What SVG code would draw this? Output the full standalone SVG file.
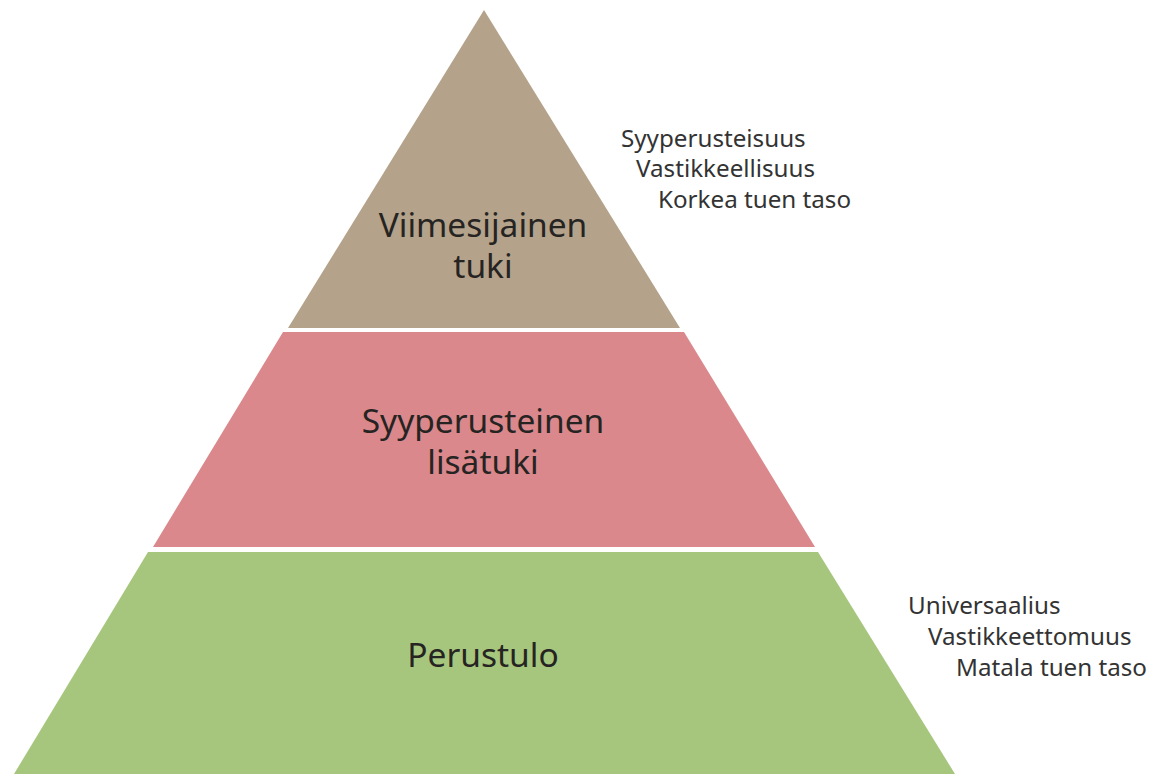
<svg xmlns="http://www.w3.org/2000/svg" width="1149" height="774" viewBox="0 0 1149 774">
<style>
.lvl{font-family:"Noto Sans","Open Sans",sans-serif;font-size:33.5px;fill:#262422;text-anchor:middle}
.note{font-family:"Noto Sans","Open Sans",sans-serif;font-size:24.2px;fill:#333333}
</style>
<rect width="1149" height="774" fill="#ffffff"/>
<g id="top">
<polygon points="484,10 680,328 288,328" fill="#B4A28A"/>
<text class="lvl" x="483" y="237">Viimesijainen</text>
<text class="lvl" x="483" y="278">tuki</text>
</g>
<g id="middle">
<polygon points="283,332 684,332 815,547 153,547" fill="#DA888C"/>
<text class="lvl" x="483" y="433">Syyperusteinen</text>
<text class="lvl" x="483" y="474">lisätuki</text>
</g>
<g id="bottom">
<polygon points="148,552 818,552 955,774 14,774" fill="#A6C67D"/>
<text class="lvl" x="483" y="667">Perustulo</text>
</g>
<g id="notes-top">
<text class="note" x="621" y="147">Syyperusteisuus</text>
<text class="note" x="636" y="177">Vastikkeellisuus</text>
<text class="note" x="658" y="208">Korkea tuen taso</text>
</g>
<g id="notes-bottom">
<text class="note" x="908" y="614">Universaalius</text>
<text class="note" x="928" y="645">Vastikkeettomuus</text>
<text class="note" x="956" y="676">Matala tuen taso</text>
</g>
</svg>
